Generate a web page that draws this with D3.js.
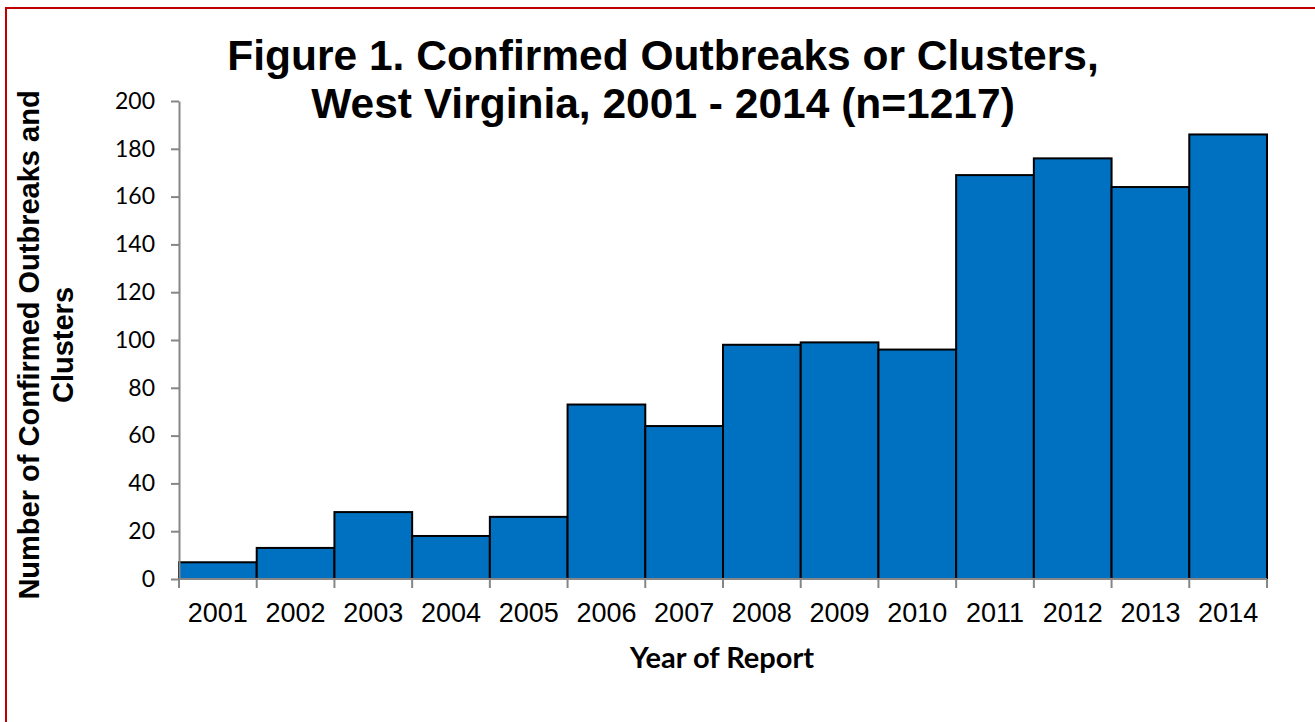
<!DOCTYPE html>
<html>
<head>
<meta charset="utf-8">
<script src="https://cdn.jsdelivr.net/npm/d3@7"></script>
<style>
  html, body { margin: 0; padding: 0; background: #fff; }
  svg { display: block; }
</style>
</head>
<body>
<script>
// Confirmed outbreaks or clusters by year of report
const years = ["2001","2002","2003","2004","2005","2006","2007","2008","2009","2010","2011","2012","2013","2014"];
const counts = [7, 13, 28, 18, 26, 73, 64, 98, 99, 96, 169, 176, 164, 186];
const yTicks = [0, 20, 40, 60, 80, 100, 120, 140, 160, 180, 200];
const titleLines = ["Figure 1. Confirmed Outbreaks or Clusters,", "West Virginia, 2001 - 2014 (n=1217)"];
const yTitleLines = ["Number of Confirmed Outbreaks and", "Clusters"];
const xTitle = "Year of Report";

const W = 1315, H = 722;
const plot = { left: 179, right: 1267, top: 101, bottom: 579 };

const svg = d3.select("body").append("svg").attr("width", W).attr("height", H);

// frame
svg.append("rect")
  .attr("x", 6).attr("y", 8)
  .attr("width", W + 20).attr("height", H + 20)
  .attr("fill", "none").attr("stroke", "#C00000").attr("stroke-width", 2);

const x = d3.scaleBand().domain(years).range([plot.left, plot.right]).padding(0);
const y = d3.scaleLinear().domain([0, 200]).range([plot.bottom, plot.top]);

// bars
svg.append("g").selectAll("rect")
  .data(years.map((yr, i) => ({ yr, v: counts[i] })))
  .join("rect")
  .attr("x", d => x(d.yr))
  .attr("y", d => y(d.v))
  .attr("width", x.bandwidth())
  .attr("height", d => y(0) - y(d.v))
  .attr("fill", "#0070C0")
  .attr("stroke", "#000")
  .attr("stroke-width", 2);

// y axis
const yAxis = svg.append("g")
  .attr("transform", `translate(${plot.left},0)`)
  .call(d3.axisLeft(y).tickValues(yTicks).tickSize(8).tickSizeOuter(0).tickPadding(16));
yAxis.select(".domain").attr("stroke", "#868686").attr("stroke-width", 2);
yAxis.selectAll(".tick line").attr("stroke", "#868686").attr("stroke-width", 2);
yAxis.selectAll(".tick text")
  .attr("font-family", "Lato, 'Open Sans', sans-serif")
  .attr("font-size", 23).attr("fill", "#000");

// x axis with ticks at category boundaries
const xAxisG = svg.append("g").attr("transform", `translate(0,${plot.bottom})`);
xAxisG.append("line")
  .attr("x1", plot.left).attr("x2", plot.right)
  .attr("stroke", "#868686").attr("stroke-width", 2);
const bounds = years.map(yr => x(yr)).concat([x(years[years.length - 1]) + x.bandwidth()]);
xAxisG.selectAll("line.tk").data(bounds).join("line")
  .attr("class", "tk")
  .attr("x1", d => d).attr("x2", d => d)
  .attr("y1", 0).attr("y2", 9)
  .attr("stroke", "#868686").attr("stroke-width", 2);
xAxisG.selectAll("text").data(years).join("text")
  .attr("x", d => x(d) + x.bandwidth() / 2)
  .attr("y", 43)
  .attr("text-anchor", "middle")
  .attr("font-family", "Arial, 'Liberation Sans', sans-serif")
  .attr("font-size", 27)
  .attr("fill", "#000")
  .text(d => d);

// title
svg.append("text")
  .attr("text-anchor", "middle")
  .attr("font-family", "Arial, 'Liberation Sans', sans-serif")
  .attr("font-weight", "bold")
  .attr("font-size", 42.5)
  .selectAll("tspan").data(titleLines).join("tspan")
  .attr("x", 663)
  .attr("y", (d, i) => 70 + i * 48)
  .text(d => d);

// y axis title
svg.append("text")
  .attr("transform", "translate(0,345) rotate(-90)")
  .attr("text-anchor", "middle")
  .attr("font-family", "Arial, 'Liberation Sans', sans-serif")
  .attr("font-weight", "bold")
  .attr("font-size", 29)
  .selectAll("tspan").data(yTitleLines).join("tspan")
  .attr("x", 0)
  .attr("y", (d, i) => 39 + i * 34)
  .text(d => d);

// x axis title
svg.append("text")
  .attr("x", 722).attr("y", 668)
  .attr("text-anchor", "middle")
  .attr("font-family", "Lato, 'Open Sans', sans-serif")
  .attr("font-weight", "bold")
  .attr("font-size", 29)
  .text(xTitle);
</script>
</body>
</html>
